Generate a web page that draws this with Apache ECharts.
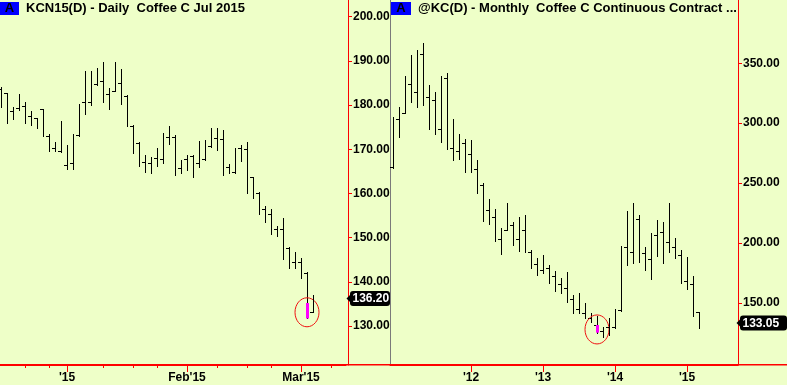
<!DOCTYPE html>
<html><head><meta charset="utf-8">
<script src="https://cdn.jsdelivr.net/npm/echarts@6/dist/echarts.min.js"></script>
<style>html,body{margin:0;padding:0;background:#EEFFC8}#c{width:787px;height:385px}</style>
</head><body><div id="c"></div>
<script>
// ---------- Daily panel (KCN15) ----------
const dailyDates = [
 '2014-12-16','2014-12-17','2014-12-18','2014-12-19','2014-12-22','2014-12-23','2014-12-24','2014-12-26','2014-12-29','2014-12-30','2014-12-31',
 '2015-01-02','2015-01-05','2015-01-06','2015-01-07','2015-01-08','2015-01-09','2015-01-12','2015-01-13','2015-01-14','2015-01-15','2015-01-16',
 '2015-01-20','2015-01-21','2015-01-22','2015-01-23','2015-01-26','2015-01-27','2015-01-28','2015-01-29','2015-01-30',
 '2015-02-02','2015-02-03','2015-02-04','2015-02-05','2015-02-06','2015-02-09','2015-02-10','2015-02-11','2015-02-12','2015-02-13',
 '2015-02-17','2015-02-18','2015-02-19','2015-02-20','2015-02-23','2015-02-24','2015-02-25','2015-02-26','2015-02-27',
 '2015-03-02','2015-03-03','2015-03-04','2015-03-05','2015-03-06','2015-03-09','2015-03-10','2015-03-11'];
const dailyHigh = [184.0,182.8,179.6,182.5,180.8,178.7,177.1,179.1,173.5,171.6,176.4,
 171.0,173.5,180.2,187.6,187.6,188.5,189.8,183.9,189.8,188.2,182.3,175.5,171.6,168.7,168.3,170.2,173.6,175.3,173.2,167.6,
 168.7,168.7,171.9,172.1,174.7,174.7,174.4,166.7,170.2,171.0,171.6,163.8,160.3,157.2,156.4,152.6,154.4,147.8,146.7,
 145.5,142.2,136.9];
const dailyLow = [179.6,176.0,176.8,178.9,176.0,175.5,174.9,172.9,169.7,169.7,169.3,
 165.5,165.5,173.1,178.0,180.0,184.5,180.6,179.0,183.2,180.3,175.3,169.1,166.1,164.9,164.6,166.2,167.0,171.1,164.2,164.6,
 165.3,163.8,165.9,167.6,170.4,169.8,164.2,164.6,164.7,167.4,160.2,158.9,155.3,153.6,150.8,150.4,145.1,143.1,143.1,
 140.8,131.7,133.2];
const dailyClose = [183.6,182.7,178.7,179.4,179.8,177.6,177.0,179.0,172.9,170.2,169.7,
 166.5,166.8,173.2,180.8,180.6,184.7,185.5,182.4,183.2,184.9,182.1,175.3,171.4,167.2,167.0,168.0,167.7,172.8,172.8,165.7,
 167.7,168.5,167.0,167.7,170.7,172.5,172.3,165.9,164.9,170.2,170.0,163.8,160.1,156.4,155.3,152.0,152.0,147.6,144.4,
 144.4,141.9,133.2];
const dailyMonthStarts = ['2015-01-02','2015-02-02','2015-03-02'];
const dailyMonthLabels = ["'15","Feb'15","Mar'15"];
const dailyWeekTicks = ['2014-12-22','2014-12-29','2015-01-12','2015-01-20','2015-01-26','2015-02-09','2015-02-17','2015-02-23','2015-03-09'];
const dailyPriceTicks = [130,140,150,160,170,180,190,200];
const dailyLast = 136.20;
const dailyMark = {date:'2015-03-03', from:135.2, to:131.7, circle:133.1};

// ---------- Monthly panel (@KC) ----------
const monthlyDates = ['2010-12',
 '2011-01','2011-02','2011-03','2011-04','2011-05','2011-06','2011-07','2011-08','2011-09','2011-10','2011-11','2011-12',
 '2012-01','2012-02','2012-03','2012-04','2012-05','2012-06','2012-07','2012-08','2012-09','2012-10','2012-11','2012-12',
 '2013-01','2013-02','2013-03','2013-04','2013-05','2013-06','2013-07','2013-08','2013-09','2013-10','2013-11','2013-12',
 '2014-01','2014-02','2014-03','2014-04','2014-05','2014-06','2014-07','2014-08','2014-09','2014-10','2014-11','2014-12',
 '2015-01','2015-02','2015-03','2015-04','2015-05','2015-06','2015-07','2015-08','2015-09'];
const monthlyHigh = [305.4,313.8,339.4,357.0,361.1,367.2,331.9,326.3,339.4,341.7,303.5,291.0,286.8,
 286.0,269.3,250.3,236.4,228.3,212.2,233.1,217.7,221.9,223.3,194.1,187.1,
 189.9,181.5,176.5,170.4,175.9,156.5,157.9,149.5,141.7,138.9,130.0,137.0,
 144.8,197.4,226.9,233.1,223.3,196.3,208.5,219.1,217.2,233.1,203.8,194.1,
 188.0,172.4,142.0];
const monthlyLow = [262.8,288.7,308.3,318.0,313.8,315.2,295.1,291.0,284.5,278.4,269.3,270.1,259.0,
 259.5,241.9,218.5,215.8,201.8,190.5,210.8,198.2,193.5,192.1,178.8,173.2,
 174.6,166.3,160.1,158.4,150.9,141.2,141.2,137.0,133.7,125.0,121.7,123.1,
 128.7,143.4,181.5,183.5,184.3,177.4,169.8,189.0,183.5,192.7,187.1,166.8,
 161.2,138.9,128.7];
const monthlyClose = [263.7,303.2,308.3,332.5,325.8,357.5,321.9,319.4,294.9,337.5,279.0,276.8,283.2,
 274.3,261.5,248.4,227.5,221.9,203.0,210.8,215.0,203.0,210.8,192.7,182.4,
 177.4,178.8,172.4,165.7,162.1,152.9,144.8,141.2,137.5,131.4,126.6,130.0,
 129.5,144.0,196.3,192.7,219.7,191.8,186.3,206.6,208.9,201.0,196.3,189.9,
 168.4,165.4,142.0];
const monthlyYearStarts = ['2012-01','2013-01','2014-01','2015-01'];
const monthlyYearLabels = ["'12","'13","'14","'15"];
const monthlyWeekTicks = [];
const monthlyPriceTicks = [150,200,250,300,350];
const monthlyLast = 133.05;
const monthlyMark = {date:'2013-10', from:131.4, to:125.0, circle:127.7};

// ---------- rendering ----------
const FONT = '"Liberation Sans", Arial, sans-serif';
const RED = '#ff0000';
const BG = '#EEFFC8';

function makeRender(cfg) {
  return function (params, api) {
    const i = params.dataIndex;
    const cs = params.coordSys;
    const pH = api.coord([api.value(0), api.value(1)]);
    const pL = api.coord([api.value(0), api.value(2)]);
    const pC = api.coord([api.value(0), api.value(3)]);
    const x = Math.round(pH[0]);
    const yH = Math.round(pH[1]), yL = Math.round(pL[1]), yC = Math.round(pC[1]);
    const ch = [];
    if (i === 0) {
      const base = Math.round(api.coord([0, cfg.min])[1]);
      if (cfg.fullBaseline) {
        ch.push({type:'rect', shape:{x:0, y:base - 1, width:api.getWidth(), height:1.5}, style:{fill:RED}});
      }
      cfg.majorTicks.forEach(d => {
        const px = Math.round(api.coord([cfg.dates.indexOf(d), cfg.min])[0]);
        ch.push({type:'rect', shape:{x:px, y:base, width:1, height:7}, style:{fill:RED}});
      });
      cfg.minorTicks.forEach(d => {
        const px = Math.round(api.coord([cfg.dates.indexOf(d), cfg.min])[0]);
        ch.push({type:'rect', shape:{x:px, y:base, width:1, height:3}, style:{fill:RED}});
      });
    }
    ch.push({type:'rect', shape:{x:x, y:yH, width:1, height:Math.max(1, yL - yH + 1)}, style:{fill:'#000'}});
    ch.push({type:'rect', shape:{x:x - 3, y:yC, width:3, height:1}, style:{fill:'#000'}});
    if (cfg.dates[i] === cfg.mark.date) {
      const a = api.coord([api.value(0), cfg.mark.from]);
      const b = api.coord([api.value(0), cfg.mark.to]);
      ch.push({type:'rect', shape:{x:x - 1, y:a[1], width:3, height:b[1] - a[1]}, style:{fill:'#ff00ff'}});
      const c = api.coord([api.value(0), cfg.mark.circle]);
      ch.push({type:'ellipse', shape:{cx:c[0], cy:c[1], rx:12, ry:14.5}, style:{fill:null, stroke:'#ee1111', lineWidth:1}});
    }
    if (i === cfg.lastIdx) {
      const ex = cs.x + cs.width + cfg.axisOffset;
      const ly = api.coord([api.value(0), cfg.last])[1];
      ch.push({type:'polygon', shape:{points:[[ex - 1.5, ly], [ex + 2.5, ly - 4], [ex + 2.5, ly + 4]]}, style:{fill:'#000'}});
      ch.push({type:'rect', shape:{x:ex + 2, y:ly - 7.5, width:cfg.boxW, height:15, r:3}, style:{fill:'#000'}});
      ch.push({type:'text', style:{text:cfg.last.toFixed(2), x:ex + 4.5, y:ly + 0.5, fill:'#fff',
        font:'bold 12px ' + FONT, align:'left', verticalAlign:'middle'}});
    }
    return {type:'group', children:ch};
  };
}

const labelFont = {color:'#000', fontWeight:'bold', fontSize:12, fontFamily:FONT};
const dailyMin = 121.17, dailyMax = 203.78;
const monthlyMin = 98.0, monthlyMax = 402.9;

const option = {
  animation:false,
  backgroundColor:BG,
  title:[
    {left:0, top:2, padding:0, text:'{a|A}{t|KCN15(D) - Daily  Coffee C Jul 2015}',
     textStyle:{rich:{
       a:{backgroundColor:'#0000ff', width:19, height:13, align:'center', color:'#000', fontWeight:'bold', fontSize:13, fontFamily:FONT},
       t:{color:'#000', fontWeight:'bold', fontSize:13, fontFamily:FONT, padding:[0,0,0,7]}}}},
    {left:391, top:2, padding:0, text:'{a|A}{t|@KC(D) - Monthly  Coffee C Continuous Contract ...}',
     textStyle:{rich:{
       a:{backgroundColor:'#0000ff', width:20, height:13, align:'center', color:'#000', fontWeight:'bold', fontSize:13, fontFamily:FONT},
       t:{color:'#000', fontWeight:'bold', fontSize:13, fontFamily:FONT, padding:[0,0,0,7]}}}}
  ],
  grid:[
    {left:-2, width:348, top:0, bottom:20, outerBoundsMode:'none'},
    {left:390, width:348, top:0, bottom:20, outerBoundsMode:'none'}
  ],
  xAxis:[
    {type:'category', gridIndex:0, data:dailyDates, position:'bottom',
     axisLine:{show:true, onZero:false, lineStyle:{color:RED, width:1}}, axisTick:{show:false},
     axisLabel:Object.assign({show:true, interval:(i, v) => dailyMonthStarts.includes(v),
       formatter:v => dailyMonthLabels[dailyMonthStarts.indexOf(v)] || '', margin:7}, labelFont),
     splitLine:{show:false}},
    {type:'category', gridIndex:1, data:monthlyDates, position:'bottom',
     axisLine:{show:true, onZero:false, lineStyle:{color:RED, width:1}}, axisTick:{show:false},
     axisLabel:Object.assign({show:true, interval:(i, v) => monthlyYearStarts.includes(v),
       formatter:v => monthlyYearLabels[monthlyYearStarts.indexOf(v)] || '', margin:7}, labelFont),
     splitLine:{show:false}}
  ],
  yAxis:[
    {type:'value', gridIndex:0, position:'right', offset:2, min:dailyMin, max:dailyMax,
     axisLine:{show:true, lineStyle:{color:RED}},
     axisTick:{show:true, length:4, customValues:dailyPriceTicks, lineStyle:{color:RED}},
     axisLabel:Object.assign({customValues:dailyPriceTicks, formatter:v => v.toFixed(2), margin:5}, labelFont),
     splitLine:{show:false}},
    {type:'value', gridIndex:1, position:'right', min:monthlyMin, max:monthlyMax,
     axisLine:{show:true, lineStyle:{color:RED}},
     axisTick:{show:true, length:4, customValues:monthlyPriceTicks, lineStyle:{color:RED}},
     axisLabel:Object.assign({customValues:monthlyPriceTicks, formatter:v => v.toFixed(2), margin:5}, labelFont),
     splitLine:{show:false}},
    {type:'value', gridIndex:1, position:'left', min:monthlyMin, max:monthlyMax,
     axisLine:{show:true, lineStyle:{color:'#7a7a7a'}},
     axisTick:{show:false}, axisLabel:{show:false}, splitLine:{show:false}}
  ],
  series:[
    {type:'custom', xAxisIndex:0, yAxisIndex:0, clip:false, silent:true, z:10,
     encode:{x:0, y:[1,2,3]},
     data:dailyHigh.map((h, i) => [i, h, dailyLow[i], dailyClose[i]]),
     renderItem:makeRender({dates:dailyDates, mark:dailyMark, last:dailyLast, lastIdx:dailyHigh.length - 1,
       axisOffset:2, boxW:40, min:dailyMin, majorTicks:dailyMonthStarts, minorTicks:dailyWeekTicks, fullBaseline:true})},
    {type:'custom', xAxisIndex:1, yAxisIndex:1, clip:false, silent:true, z:10,
     encode:{x:0, y:[1,2,3]},
     data:monthlyHigh.map((h, i) => [i, h, monthlyLow[i], monthlyClose[i]]),
     renderItem:makeRender({dates:monthlyDates, mark:monthlyMark, last:monthlyLast, lastIdx:monthlyHigh.length - 1,
       axisOffset:0, boxW:47, min:monthlyMin, majorTicks:monthlyYearStarts, minorTicks:monthlyWeekTicks, fullBaseline:false})}
  ]
};
const chart = echarts.init(document.getElementById('c'), null, {renderer:'canvas'});
chart.setOption(option);
</script></body></html>
